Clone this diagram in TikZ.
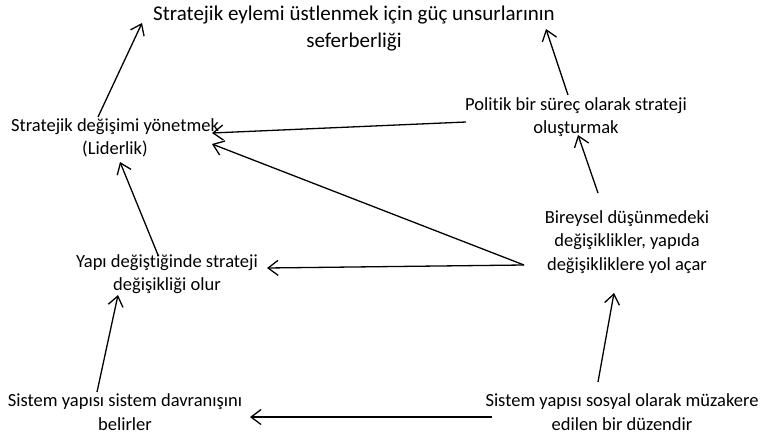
\documentclass[tikz,border=0pt]{standalone}
\usepackage{fontspec}
\setmainfont{Carlito}[RawFeature=-liga]
\usetikzlibrary{arrows.meta}
\begin{document}
\begin{tikzpicture}[x=1pt,y=-1pt,
  lbl/.style={align=center,inner sep=0pt,font=\fontsize{18.5}{23.5}\selectfont},
  ttl/.style={align=center,inner sep=0pt,font=\fontsize{21}{27}\selectfont},
  arr/.style={line width=1.3pt,-{Straight Barb[length=10pt,width=15pt]}}]
\useasboundingbox (0,0) rectangle (769,436);
\node[ttl] (title) at (354,29) {Stratejik eylemi üstlenmek için güç unsurlarının\\seferberliği};
\node[lbl] (strat) at (115,138) {Stratejik değişimi yönetmek\\(Liderlik)};
\node[lbl] (pol) at (576,117) {Politik bir süreç olarak strateji\\oluşturmak};
\node[lbl] (bir) at (627,242) {Bireysel düşünmedeki\\değişiklikler, yapıda\\değişikliklere yol açar};
\node[lbl] (yapi) at (167,274) {Yapı değiştiğinde strateji\\değişikliği olur};
\node[lbl] (sisL) at (125,412) {Sistem yapısı sistem davranışını\\belirler};
\node[lbl] (sisR) at (622,412) {Sistem yapısı sosyal olarak müzakere\\edilen bir düzendir};
\draw[arr] ([shift={(-17,-21)}]strat.center) -- ([shift={(-212,-6)}]title.center);
\draw[arr] ([shift={(-8,-22)}]pol.center) -- ([shift={(192,0)}]title.center);
\draw[arr] ([shift={(-110,5)}]pol.center) -- ([shift={(97,-5)}]strat.center);
\draw[arr] ([shift={(-103,23)}]bir.center) -- ([shift={(97,6)}]strat.center);
\draw[arr] ([shift={(-103,23)}]bir.center) -- ([shift={(100,-6)}]yapi.center);
\draw[arr] ([shift={(-29,-49)}]bir.center) -- ([shift={(2,18)}]pol.center);
\draw[arr] ([shift={(-9,-19)}]yapi.center) -- ([shift={(5,24)}]strat.center);
\draw[arr] ([shift={(-28,-20)}]sisL.center) -- ([shift={(-49,21)}]yapi.center);
\draw[arr] ([shift={(-24,-30)}]sisR.center) -- ([shift={(-13,51)}]bir.center);
\draw[arr] ([shift={(-130,5)}]sisR.center) -- ([shift={(125,5)}]sisL.center);
\end{tikzpicture}
\end{document}
